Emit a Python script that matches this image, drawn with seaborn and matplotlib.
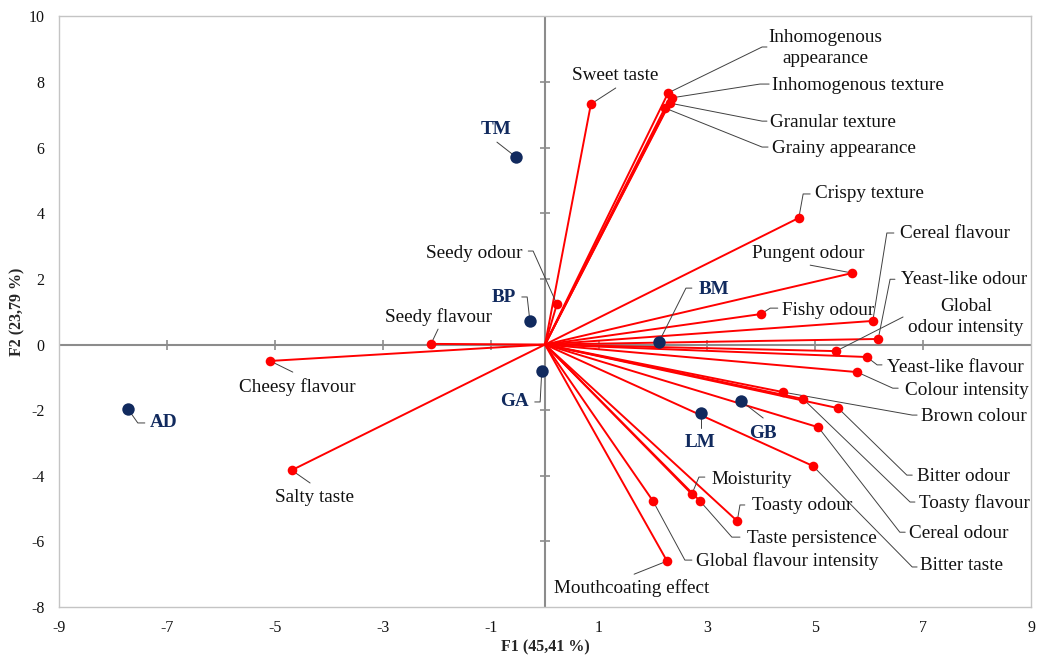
import matplotlib
matplotlib.use("Agg")
import matplotlib.pyplot as plt
import seaborn as sns
import pandas as pd

# ---------------- data ----------------
var_names = ["Sweet taste", "Inhomogenous\nappearance", "Inhomogenous texture",
             "Granular texture", "Grainy appearance", "Crispy texture", "Pungent odour",
             "Fishy odour", "Cereal flavour", "Yeast-like odour", "Global\nodour intensity",
             "Yeast-like flavour", "Colour intensity", "Brown colour", "Toasty flavour",
             "Bitter odour", "Cereal odour", "Bitter taste", "Moisturity", "Taste persistence",
             "Toasty odour", "Global flavour intensity", "Mouthcoating effect", "Seedy odour",
             "Seedy flavour", "Cheesy flavour", "Salty taste"]
var_f1 = [0.85, 2.28, 2.35, 2.31, 2.22, 4.70, 5.69, 4.00, 6.07, 6.17, 5.39, 5.96, 5.78,
          4.41, 4.78, 5.43, 5.06, 4.96, 2.72, 2.87, 3.56, 2.00, 2.26, 0.22, -2.11, -5.09, -4.69]
var_f2 = [7.33, 7.67, 7.52, 7.36, 7.21, 3.86, 2.18, 0.93, 0.72, 0.17, -0.20, -0.38, -0.84,
          -1.45, -1.66, -1.94, -2.52, -3.70, -4.56, -4.77, -5.38, -4.77, -6.60, 1.23, 0.02,
          -0.50, -3.83]

sample_names = ["TM", "BP", "GA", "AD", "BM", "LM", "GB"]
sample_f1 = [-0.54, -0.28, -0.06, -7.72, 2.11, 2.89, 3.63]
sample_f2 = [5.72, 0.72, -0.81, -1.97, 0.08, -2.09, -1.72]

x_ticks = [-9, -7, -5, -3, -1, 1, 3, 5, 7, 9]
y_ticks = [-8, -6, -4, -2, 0, 2, 4, 6, 8, 10]
x_label = "F1 (45,41 %)"
y_label = "F2 (23,79 %)"

# ---------------- label layout (data units): text x, text y, ha, leader path ----------------
var_layout = {
    "Sweet taste": (1.30, 8.19, "center", [(1.31, 7.82)]),
    "Inhomogenous\nappearance": (5.20, 9.04, "center", [(4.02, 9.07), (4.11, 9.07)]),
    "Inhomogenous texture": (4.20, 7.91, "left", [(3.98, 7.94), (4.15, 7.94)]),
    "Granular texture": (4.17, 6.78, "left", [(4.02, 6.81), (4.11, 6.81)]),
    "Grainy appearance": (4.20, 5.98, "left", [(4.02, 6.02), (4.13, 6.02)]),
    "Crispy texture": (5.00, 4.59, "left", [(4.78, 4.59), (4.91, 4.59)]),
    "Pungent odour": (4.87, 2.79, "center", [(4.91, 2.42)]),
    "Fishy odour": (4.39, 1.05, "left", [(4.17, 1.11), (4.31, 1.11)]),
    "Cereal flavour": (6.57, 3.40, "left", [(6.33, 3.40), (6.46, 3.40)]),
    "Yeast-like odour": (6.59, 1.97, "left", [(6.39, 1.99), (6.48, 1.99)]),
    "Global\nodour intensity": (7.80, 0.84, "center", [(6.63, 0.84)]),
    "Yeast-like flavour": (6.33, -0.69, "left", [(6.15, -0.62), (6.24, -0.62)]),
    "Colour intensity": (6.67, -1.41, "left", [(6.44, -1.33), (6.54, -1.33)]),
    "Brown colour": (6.96, -2.18, "left", [(6.80, -2.15), (6.89, -2.15)]),
    "Bitter odour": (6.89, -4.01, "left", [(6.70, -3.98), (6.80, -3.98)]),
    "Toasty flavour": (6.93, -4.83, "left", [(6.76, -4.80), (6.85, -4.80)]),
    "Cereal odour": (6.74, -5.75, "left", [(6.57, -5.72), (6.67, -5.72)]),
    "Bitter taste": (6.95, -6.75, "left", [(6.80, -6.78), (6.89, -6.78)]),
    "Moisturity": (3.09, -4.10, "left", [(2.85, -4.04), (2.96, -4.04)]),
    "Toasty odour": (3.83, -4.92, "left", [(3.61, -4.89), (3.70, -4.89)]),
    "Taste persistence": (3.74, -5.90, "left", [(3.46, -5.87), (3.61, -5.87)]),
    "Global flavour intensity": (2.80, -6.60, "left", [(2.59, -6.57), (2.72, -6.57)]),
    "Mouthcoating effect": (1.61, -7.43, "center", [(1.65, -7.00)]),
    "Seedy odour": (-0.41, 2.79, "right", [(-0.22, 2.85), (-0.31, 2.85)]),
    "Seedy flavour": (-1.97, 0.83, "center", [(-1.98, 0.47)]),
    "Cheesy flavour": (-4.59, -1.30, "center", [(-4.67, -0.84)]),
    "Salty taste": (-4.26, -4.65, "center", [(-4.35, -4.22)]),
}
sample_layout = {
    "TM": (-0.91, 6.57, "center", [(-0.89, 6.17)]),
    "BP": (-0.76, 1.42, "center", [(-0.33, 1.45), (-0.43, 1.45)]),
    "GA": (-0.56, -1.75, "center", [(-0.09, -1.75), (-0.19, -1.75)]),
    "AD": (-7.07, -2.39, "center", [(-7.54, -2.39), (-7.41, -2.39)]),
    "BM": (3.13, 1.69, "center", [(2.61, 1.72), (2.72, 1.72)]),
    "LM": (2.87, -3.00, "center", [(2.89, -2.55)]),
    "GB": (4.04, -2.70, "center", [(4.04, -2.24)]),
}

RED = "#ff0000"
NAVY = "#112a5e"
LEADER = "#404040"
AXIS_GRAY = "#8c8c8c"
FRAME_GRAY = "#c4c4c4"

sns.set_theme(style="white")
plt.rcParams["font.family"] = ["Liberation Serif", "DejaVu Serif"]

vars_df = pd.DataFrame({"name": var_names, "F1": var_f1, "F2": var_f2})
samp_df = pd.DataFrame({"name": sample_names, "F1": sample_f1, "F2": sample_f2})

fig = plt.figure(figsize=(10.38, 6.59), dpi=100)
ax = fig.add_axes([0.0568, 0.0789, 0.9365, 0.8961])
ax.set_xlim(-9, 9)
ax.set_ylim(-8, 10)

# zero axes with tick marks
ax.axhline(0, color=AXIS_GRAY, lw=1.5, zorder=1)
ax.axvline(0, color=AXIS_GRAY, lw=1.5, zorder=1)
inner_x = [t for t in x_ticks if x_ticks[0] < t < x_ticks[-1]]
inner_y = [t for t in y_ticks if y_ticks[0] < t < y_ticks[-1] and t != 0]
ax.plot(inner_x, [0] * len(inner_x), ls="none", marker="|", ms=7, mew=1.2,
        color=AXIS_GRAY, zorder=1)
ax.plot([0] * len(inner_y), inner_y, ls="none", marker="_", ms=7, mew=1.2,
        color=AXIS_GRAY, zorder=1)

# vectors
for _, r in vars_df.iterrows():
    ax.plot([0, r.F1], [0, r.F2], color=RED, lw=1.4, zorder=2, solid_capstyle="butt")

sns.scatterplot(data=vars_df, x="F1", y="F2", ax=ax, color=RED, s=48,
                edgecolor=RED, linewidth=0, zorder=3, legend=False)
sns.scatterplot(data=samp_df, x="F1", y="F2", ax=ax, color=NAVY, s=80,
                edgecolor=NAVY, linewidth=0, zorder=4, legend=False)

# labels with leader lines
for _, r in vars_df.iterrows():
    tx, ty, ha, path = var_layout[r["name"]]
    xs = [r.F1] + [p[0] for p in path]
    ys = [r.F2] + [p[1] for p in path]
    ax.plot(xs, ys, color=LEADER, lw=0.7, zorder=2.5)
    ax.text(tx, ty, r["name"], ha=ha, va="center", multialignment="center",
            fontsize=13.8, color="#111111", linespacing=1.3, zorder=5)

for _, r in samp_df.iterrows():
    tx, ty, ha, path = sample_layout[r["name"]]
    xs = [r.F1] + [p[0] for p in path]
    ys = [r.F2] + [p[1] for p in path]
    ax.plot(xs, ys, color=LEADER, lw=0.7, zorder=2.5)
    ax.text(tx, ty, r["name"], ha=ha, va="center", fontsize=13.8,
            fontweight="bold", color=NAVY, zorder=5)

ax.set_xticks(x_ticks)
ax.set_yticks(y_ticks)
ax.set_xticklabels([str(t) for t in x_ticks])
ax.set_yticklabels([str(t) for t in y_ticks])
ax.tick_params(axis="both", length=0, labelsize=11.5, colors="#111111")
ax.tick_params(axis="x", pad=9)
ax.tick_params(axis="y", pad=10.5)
ax.set_xlabel(x_label, fontsize=11.5, fontweight="bold", va="center")
ax.set_ylabel(y_label, fontsize=11.5, fontweight="bold", va="center")
ax.xaxis.set_label_coords(0.5, -0.069)
ax.yaxis.set_label_coords(-0.043, 0.5)
for s in ax.spines.values():
    s.set_color(FRAME_GRAY)
    s.set_linewidth(1.0)

fig.savefig("out.png", dpi=100)
